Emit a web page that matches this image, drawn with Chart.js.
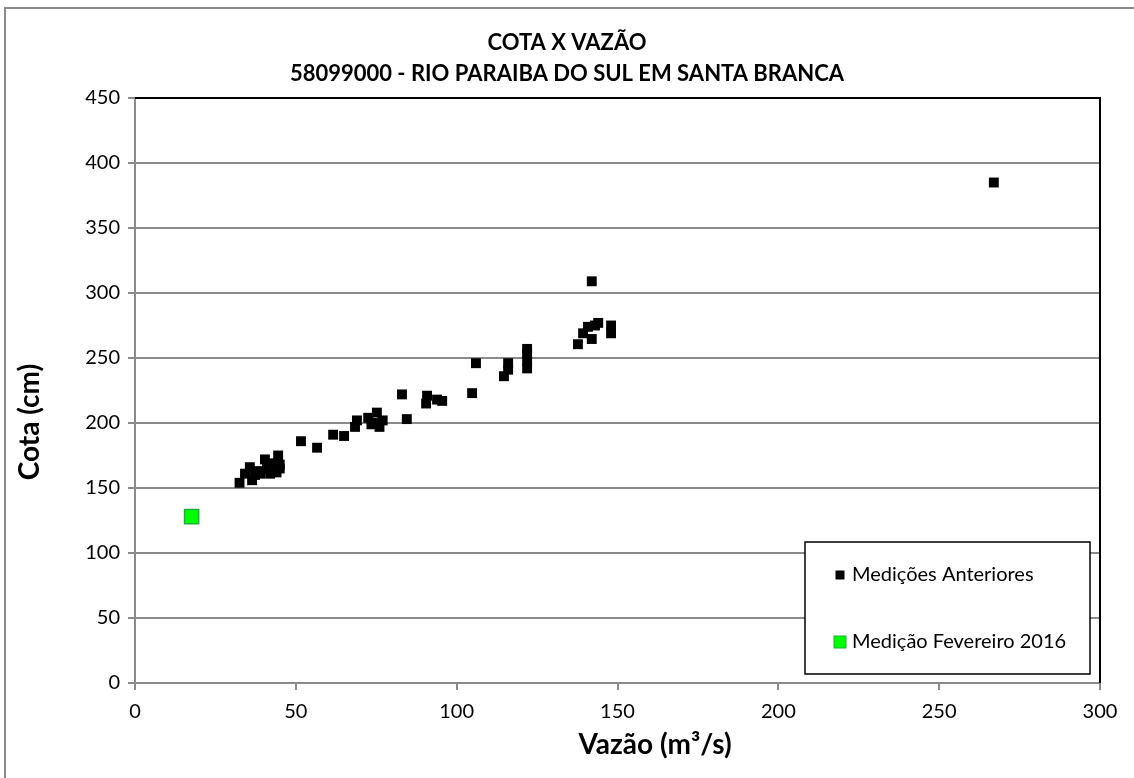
<!DOCTYPE html>
<html><head><meta charset="utf-8">
<script src="https://cdn.jsdelivr.net/npm/chart.js@4"></script>
<style>html,body{margin:0;padding:0;background:#fff;} #wrap{width:1134px;height:778px;position:relative;}</style>
</head><body><div id="wrap"><canvas id="c" width="1134" height="778"></canvas></div>
<script>
const titleLines = ['COTA X VAZÃO', '58099000 - RIO PARAIBA DO SUL EM SANTA BRANCA'];
const xAxisTitle = 'Vazão (m³/s)';
const yAxisTitle = 'Cota (cm)';
const seriesLabels = ['Medições Anteriores', 'Medição Fevereiro 2016'];

const vazaoAnteriores = [32.5,34.2,35.7,36.4,37.3,38,38.9,40.4,41,42,42.6,44,44.5,45,45,
  51.6,56.6,61.6,65,68.4,69,72.5,73.5,75.2,75.2,76,77,83,84.5,90.5,90.8,93.9,95.5,
  104.8,106,114.7,116,116,121.9,121.9,121.9,121.9,137.7,139.3,140.8,142,142,144,143,148,148,267];
const cotaAnteriores = [154,161,166,156,160,163,161,172,165,161,169,162,175,168,165,
  186,181,191,190,197,202,204,199,208,200,197,202,222,203,215,221,218,217,
  223,246,236,241,246,242,248,253,257,260.6,269,274,264.6,309,277,275,269,275,385];
const vazaoFevereiro2016 = [17.6];
const cotaFevereiro2016 = [128];

const xMin = 0, xMax = 300, xStep = 50;
const yMin = 0, yMax = 450, yStep = 50;

const toPoints = (xs, ys) => xs.map((v, i) => ({x: v, y: ys[i]}));

const FONT = 'Lato';

const decor = {
  id: 'decor',
  beforeDraw(chart) {
    const ctx = chart.ctx;
    ctx.save();
    ctx.fillStyle = '#fff';
    ctx.fillRect(0, 0, chart.width, chart.height);
    ctx.strokeStyle = '#8a8a8a';
    ctx.lineWidth = 2;
    ctx.beginPath();
    ctx.moveTo(5, chart.height);
    ctx.lineTo(5, 8);
    ctx.lineTo(chart.width, 8);
    ctx.stroke();
    ctx.restore();
  },
  afterDraw(chart) {
    const ctx = chart.ctx;
    const a = chart.chartArea;
    ctx.save();
    ctx.strokeStyle = '#000';
    ctx.lineWidth = 2;
    ctx.beginPath();
    ctx.moveTo(a.left, a.top);
    ctx.lineTo(a.right, a.top);
    ctx.lineTo(a.right, a.bottom);
    ctx.stroke();
    ctx.fillStyle = '#000';
    ctx.textAlign = 'center';
    ctx.textBaseline = 'middle';
    ctx.font = 'bold 22px ' + FONT;
    ctx.fillText(titleLines[0], 567, 43);
    ctx.fillText(titleLines[1], 567, 74);
    // axis titles
    ctx.font = 'bold 28px ' + FONT;
    ctx.fillText(xAxisTitle, 655, 745);
    ctx.save();
    ctx.translate(30, 422);
    ctx.rotate(-Math.PI / 2);
    ctx.fillText(yAxisTitle, 0, 0);
    ctx.restore();
    // legend
    const lx = 805, ly = 542, lw = 285, lh = 132;
    ctx.fillStyle = '#fff';
    ctx.fillRect(lx, ly, lw, lh);
    ctx.strokeStyle = '#000';
    ctx.lineWidth = 1.5;
    ctx.strokeRect(lx, ly, lw, lh);
    const rows = [575, 642];
    chart.data.datasets.forEach((ds, i) => {
      const cy = rows[i];
      const s = i === 0 ? 9 : 12;
      ctx.fillStyle = ds.backgroundColor;
      ctx.fillRect(840 - s / 2, cy - s / 2, s, s);
      if (i === 1) {
        ctx.strokeStyle = ds.borderColor;
        ctx.lineWidth = 1;
        ctx.strokeRect(840 - s / 2, cy - s / 2, s, s);
      }
      ctx.fillStyle = '#000';
      ctx.textAlign = 'left';
      ctx.font = '20px ' + FONT;
      ctx.fillText(ds.label, 852, cy);
    });
    ctx.restore();
  }
};

new Chart(document.getElementById('c'), {
  type: 'scatter',
  data: {
    datasets: [
      {
        label: seriesLabels[0],
        data: toPoints(vazaoAnteriores, cotaAnteriores),
        pointStyle: 'rect',
        pointRadius: 7,
        backgroundColor: '#000000',
        borderColor: '#000000',
        borderWidth: 0
      },
      {
        label: seriesLabels[1],
        data: toPoints(vazaoFevereiro2016, cotaFevereiro2016),
        pointStyle: 'rect',
        pointRadius: 10,
        backgroundColor: '#00ff00',
        borderColor: '#1fae3a',
        borderWidth: 1.5
      }
    ]
  },
  options: {
    responsive: false,
    animation: false,
    devicePixelRatio: 1,
    layout: {padding: {left: 8, right: 34, top: 98, bottom: 0}},
    plugins: {legend: {display: false}, title: {display: false}, tooltip: {enabled: false}},
    scales: {
      x: {
        type: 'linear', min: xMin, max: xMax,
        ticks: {stepSize: xStep, color: '#000', font: {family: FONT, size: 20}, padding: 10, maxRotation: 0},
        grid: {drawOnChartArea: false, drawTicks: true, tickLength: 7, color: '#8a8a8a', lineWidth: 2},
        border: {color: '#8a8a8a', width: 2},
        title: {display: false},
        afterFit(s) { s.height = 95; }
      },
      y: {
        type: 'linear', min: yMin, max: yMax,
        ticks: {stepSize: yStep, color: '#000', font: {family: FONT, size: 20}, padding: 8},
        grid: {drawTicks: true, tickLength: 7, color: '#8a8a8a', lineWidth: 2},
        border: {color: '#8a8a8a', width: 2},
        title: {display: false},
        afterFit(s) { s.width = 127; }
      }
    }
  },
  plugins: [decor]
});
</script>
</body></html>
